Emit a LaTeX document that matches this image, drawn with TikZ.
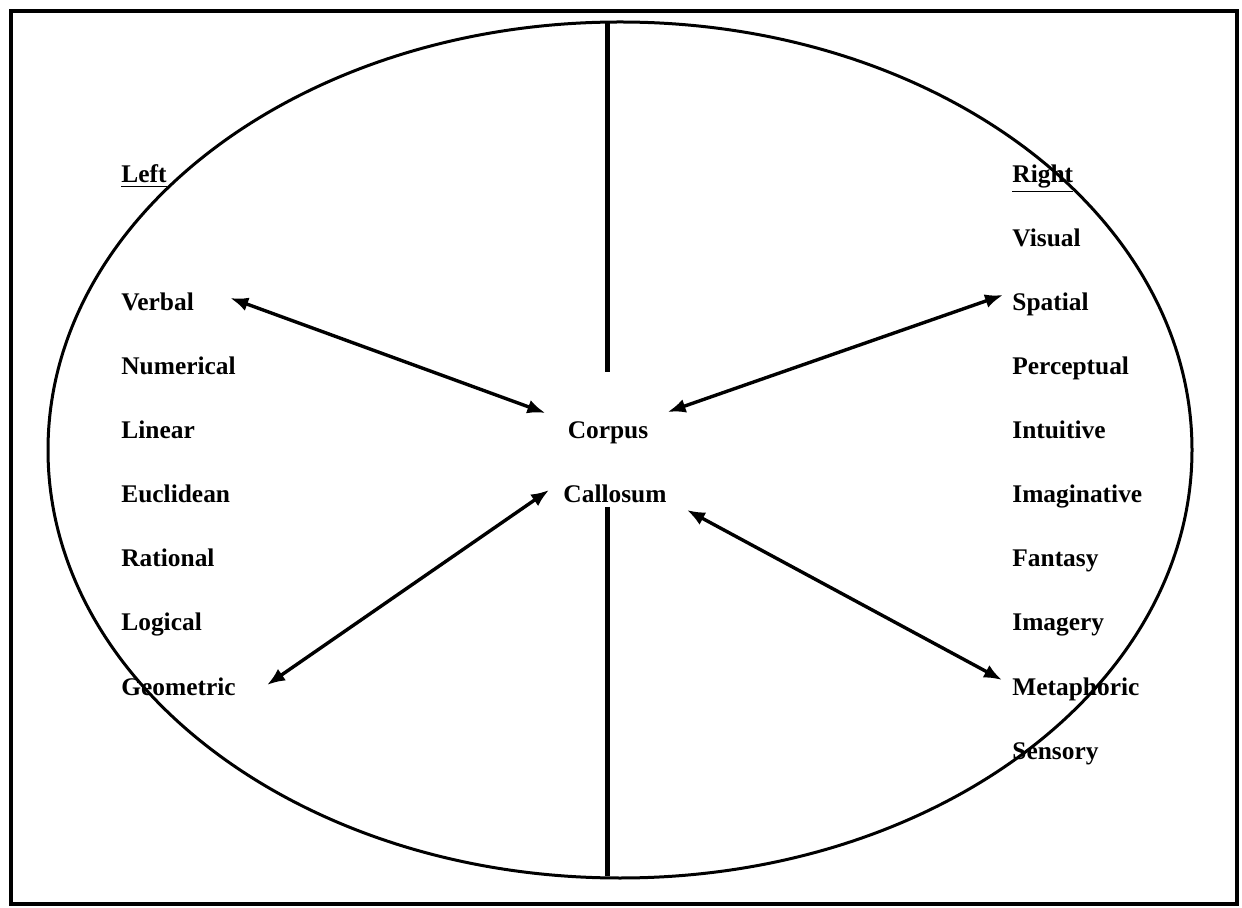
\documentclass[tikz,border=0pt]{standalone}
\usepackage{fontspec}
\setmainfont{Liberation Serif}
\usetikzlibrary{arrows.meta}

\tikzset{
  word/.style={anchor=base west, inner sep=0pt, font=\fontsize{12.7}{15}\selectfont\bfseries},
  twoway/.style={{Latex[length=9pt,width=7pt]}-{Latex[length=9pt,width=7pt]}, line width=1.7pt}
}

\begin{document}
\begin{tikzpicture}[x=0.5pt, y=-0.5pt]
\useasboundingbox (0,0) rectangle (1242,908);
\draw[line width=1.6pt] (11,11) rectangle (1237,904); % frame
\draw[line width=1.5pt] (620,450) ellipse (572 and 428); % brain
\draw[line width=2.5pt] (607,22) -- (607,372); % upper split
\draw[line width=2.5pt] (607,507) -- (607,876); % lower split

% left side
\node[word] (left) at (121,183) {\underline{Left}};
\foreach \name/\txt/\y in {verbal/Verbal/311, numerical/Numerical/375, linear/Linear/439,
  euclidean/Euclidean/503, rational/Rational/567, logical/Logical/631, geometric/Geometric/695}
  \node[word] (\name) at (121,\y) {\txt};

% right side
\node[word] (right) at (1012,183) {\underline{Right}};
\foreach \name/\txt/\y in {visual/Visual/247, spatial/Spatial/311, perceptual/Perceptual/375,
  intuitive/Intuitive/439, imaginative/Imaginative/503, fantasy/Fantasy/567,
  imagery/Imagery/631, metaphoric/Metaphoric/695, sensory/Sensory/759}
  \node[word] (\name) at (1012,\y) {\txt};

% middle
\node[word, anchor=base] (corpus) at (608,439) {Corpus};
\node[word, anchor=base] (callosum) at (615,503) {Callosum};

\draw[twoway] ([shift={(36,-13)}]verbal.base east) -- ([shift={(-22,-26)}]corpus.base west);
\draw[twoway] ([shift={(-9,-16)}]spatial.base west) -- ([shift={(19,-27)}]corpus.base east);
\draw[twoway] ([shift={(31,-10)}]geometric.base east) -- ([shift={(-14,-13)}]callosum.base west);
\draw[twoway] ([shift={(-10,-15)}]metaphoric.base west) -- ([shift={(20,7)}]callosum.base east);
\end{tikzpicture}
\end{document}
